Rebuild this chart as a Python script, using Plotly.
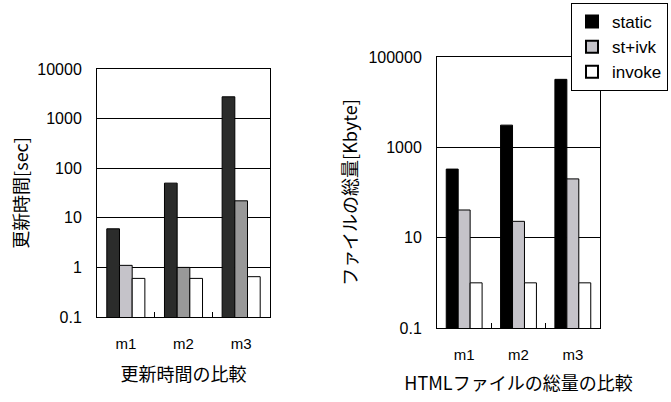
import plotly.graph_objects as go

# Categories and series
categories = ["m1", "m2", "m3"]
series_names = ["static", "st+ivk", "invoke"]

# Update time [sec]
update_static = [6, 50, 2750]
update_stivk = [1.1, 1.0, 22]
update_invoke = [0.6, 0.6, 0.65]

# Total HTML file size [Kbyte]
size_static = [330, 3100, 32000]
size_stivk = [41, 23, 200]
size_invoke = [1.0, 1.0, 1.0]

left_tickvals = [0.1, 1, 10, 100, 1000, 10000]
left_ticktext = ["0.1", "1", "10", "100", "1000", "10000"]
right_tickvals = [0.1, 10, 1000, 100000]
right_ticktext = ["0.1", "10", "1000", "100000"]

FONT = "Liberation Sans, Arial, Noto Sans CJK JP, sans-serif"
CJK = "Noto Sans CJK JP, Liberation Sans, sans-serif"

left_colors = [
    ["#2b2c2b"] * 3,
    ["#c5c3c9", "#999999", "#999999"],
    ["#ffffff"] * 3,
]
right_colors = ["#000000", "#c5c3c9", "#ffffff"]

fig = go.Figure()

left_data = [update_static, update_stivk, update_invoke]
for name, vals, cols in zip(series_names, left_data, left_colors):
    fig.add_trace(go.Bar(
        x=categories, y=vals, name=name, showlegend=False,
        marker=dict(color=cols, line=dict(color="#000000", width=1)),
        xaxis="x", yaxis="y",
    ))

right_data = [size_static, size_stivk, size_invoke]
for name, vals, col in zip(series_names, right_data, right_colors):
    fig.add_trace(go.Bar(
        x=categories, y=vals, name=name, showlegend=True,
        marker=dict(color=col, line=dict(color="#000000", width=1)),
        xaxis="x2", yaxis="y2",
    ))

W, H = 671, 402

def fx(px):
    return px / W

def fy(py):
    return 1 - py / H

axis_common = dict(
    showline=True, linecolor="#000000", linewidth=1, mirror=True,
    automargin=False,
)

fig.update_layout(
    width=W, height=H,
    margin=dict(l=0, r=0, t=0, b=0, autoexpand=False),
    paper_bgcolor="#ffffff", plot_bgcolor="#ffffff",
    barmode="group", bargap=0.34, bargroupgap=0,
    font=dict(family=FONT, size=15, color="#000000"),
    xaxis=dict(
        domain=[fx(97), fx(270)], anchor="y",
        ticks="inside", tickson="boundaries", ticklen=5, tickcolor="#000000",
        tickfont=dict(size=15), showgrid=False, ticklabelstandoff=13,
        title=dict(text="更新時間の比較", font=dict(family=CJK, size=18), standoff=17),
        **axis_common,
    ),
    yaxis=dict(
        domain=[fy(317), fy(69)], anchor="x", type="log", range=[-1, 4],
        tickvals=left_tickvals, ticktext=left_ticktext, ticks="",
        showgrid=True, gridcolor="#000000", gridwidth=1,
        tickfont=dict(size=16), ticklabelstandoff=11,
        title=dict(text="更新時間[sec]", font=dict(family=CJK, size=18), standoff=3),
        **axis_common,
    ),
    xaxis2=dict(
        domain=[fx(437), fx(600)], anchor="y2",
        ticks="inside", tickson="boundaries", ticklen=5, tickcolor="#000000",
        tickfont=dict(size=15), showgrid=False, ticklabelstandoff=13,
        title=dict(text="HTMLファイルの総量の比較", font=dict(family=CJK, size=18), standoff=15),
        **axis_common,
    ),
    yaxis2=dict(
        domain=[fy(328), fy(57)], anchor="x2", type="log", range=[-1, 5],
        tickvals=right_tickvals, ticktext=right_ticktext, ticks="",
        showgrid=True, gridcolor="#000000", gridwidth=1,
        tickfont=dict(size=16), ticklabelstandoff=11,
        title=dict(text="ファイルの総量[Kbyte]", font=dict(family=CJK, size=18), standoff=6),
        **axis_common,
    ),
    legend=dict(
        x=fx(571), y=fy(3), xanchor="left", yanchor="top",
        bgcolor="#ffffff", bordercolor="#000000", borderwidth=1,
        font=dict(family=FONT, size=17), traceorder="normal",
        itemsizing="constant", tracegroupgap=0,
    ),
)

fig.write_html("out.html")
